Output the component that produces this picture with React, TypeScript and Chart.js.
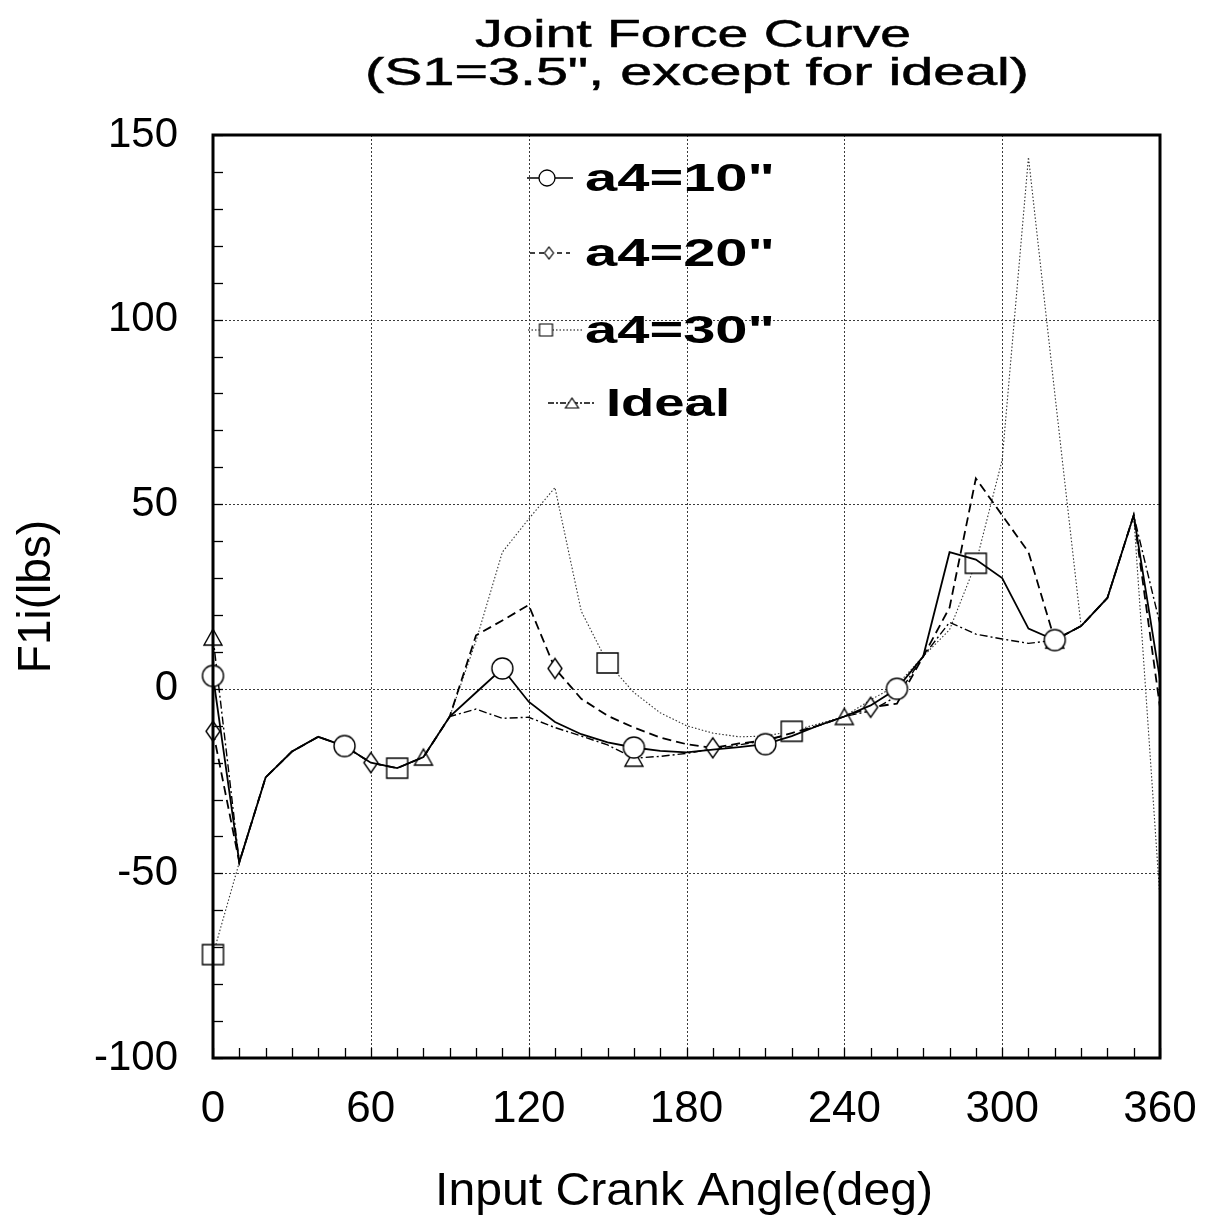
import React, { useEffect, useRef } from 'react';
import { Chart, registerables } from 'chart.js';

Chart.register(...registerables);

// ---------- data ----------
const angles = [0, 10, 20, 30, 40, 50, 60, 70, 80, 90, 100, 110, 120, 130, 140, 150, 160, 170, 180, 190, 200, 210, 220, 230, 240, 250, 260, 270, 280, 290, 300, 310, 320, 330, 340, 350, 360];

const a4_10 = [3.5, -47, -24, -17, -13, -15.5, -20, -21.5, -18.5, -7.5, -1, 5.5, -3.5, -9, -12.3, -14.5, -15.9, -16.8, -17.2, -16.5, -15.8, -15, -12.8, -10, -7.5, -4.5, 0, 8.8, 37, 35, 30, 16.3, 13.2, 17, 24.6, 47, 2.5];
const a4_20 = [-11.5, -47, -24, -17, -13, -15.5, -20, -21.5, -18.5, -7.5, 14.5, 18.5, 22.7, 5.5, -2.7, -7.3, -10.5, -13.2, -15, -16, -14.8, -14, -12, -10, -7.5, -5, -4, 8.8, 22, 57, 47, 37, 13.2, 17, 24.6, 47, -5];
const a4_30 = [-72, -47, -24, -17, -13, -15.5, -20, -21.5, -18.5, -7.5, 13, 37, 46, 54.5, 21, 7, -1, -6.5, -10, -12, -13, -12.8, -11.5, -9.5, -7.5, -3, 1, 8.8, 16, 34, 62, 144, 80, 17, 24.6, 47, -57];
const ideal = [14, -47, -24, -17, -13, -15.5, -20, -21.5, -18.5, -7.5, -5.5, -8, -7.7, -10.5, -12.8, -15.2, -18.8, -18.3, -17.5, -16.3, -15.2, -14, -12.2, -10, -7.5, -6, -2, 8.8, 18, 14.8, 13.5, 12.3, 13.2, 17, 24.6, 47, 17.5];

// indices of points that carry a marker
const marks10 = [0, 5, 11, 16, 21, 26, 32];
const marks20 = [0, 6, 13, 19, 25];
const marks30 = [0, 7, 15, 22, 29];
const marksIdeal = [0, 8, 16, 24, 32];

const seriesLabels = ['a4=10"', 'a4=20"', 'a4=30"', 'Ideal'];
const xTickValues = [0, 60, 120, 180, 240, 300, 360];
const yTickValues = [-100, -50, 0, 50, 100, 150];
const titleLines = ['Joint Force Curve', '(S1=3.5", except for ideal)'];
const xAxisTitle = 'Input Crank Angle(deg)';
const yAxisTitle = 'F1i(lbs)';

// ---------- helpers ----------
function makeMarker(kind: string, w: number, h: number, lw = 1.4): HTMLCanvasElement {
  const pad = 2;
  const c = document.createElement('canvas');
  c.width = Math.ceil(w + pad * 2);
  c.height = Math.ceil(h + pad * 2);
  const g = c.getContext('2d') as CanvasRenderingContext2D;
  const cx = c.width / 2;
  const cy = c.height / 2;
  g.beginPath();
  if (kind === 'circle') g.arc(cx, cy, w / 2, 0, Math.PI * 2);
  else if (kind === 'square') g.rect(cx - w / 2, cy - h / 2, w, h);
  else if (kind === 'diamond') {
    g.moveTo(cx, cy - h / 2); g.lineTo(cx + w / 2, cy); g.lineTo(cx, cy + h / 2); g.lineTo(cx - w / 2, cy); g.closePath();
  } else {
    g.moveTo(cx, cy - h / 2); g.lineTo(cx + w / 2, cy + h / 2); g.lineTo(cx - w / 2, cy + h / 2); g.closePath();
  }
  g.fillStyle = '#fff';
  g.fill();
  g.strokeStyle = '#000';
  g.lineWidth = lw;
  g.stroke();
  return c;
}

const FONT = '"Liberation Sans", Arial, Helvetica, sans-serif';

// draw text horizontally scaled so that it spans targetW pixels
function fitText(ctx: CanvasRenderingContext2D, text: string, x: number, y: number, targetW: number, align: CanvasTextAlign, strokeW = 0) {
  const w = ctx.measureText(text).width;
  const sx = targetW / w;
  ctx.save();
  ctx.translate(x, y);
  ctx.scale(sx, 1);
  ctx.textAlign = align;
  ctx.fillText(text, 0, 0);
  if (strokeW > 0) {
    ctx.lineWidth = strokeW;
    ctx.strokeStyle = '#000';
    ctx.strokeText(text, 0, 0);
  }
  ctx.restore();
}

export default function App() {
  const ref = useRef<HTMLCanvasElement | null>(null);

  useEffect(() => {
    const canvas = ref.current;
    if (!canvas) return;

    const mCircle = makeMarker('circle', 21, 21);
    const mDiamond = makeMarker('diamond', 14, 20);
    const mSquare = makeMarker('square', 21, 20);
    const mTri = makeMarker('triangle', 18, 16);

    const lCircle = makeMarker('circle', 16, 16, 1.3);
    const lDiamond = makeMarker('diamond', 9, 12, 1.2);
    const lSquare = makeMarker('square', 13, 12, 1.2);
    const lTri = makeMarker('triangle', 13, 10, 1.2);

    const styles = [
      { dash: [] as number[], width: 1.8, color: '#000', marker: mCircle, lmarker: lCircle, marks: marks10, vals: a4_10 },
      { dash: [9, 5], width: 1.8, color: '#000', marker: mDiamond, lmarker: lDiamond, marks: marks20, vals: a4_20 },
      { dash: [1.5, 2], width: 1.1, color: '#333', marker: mSquare, lmarker: lSquare, marks: marks30, vals: a4_30 },
      { dash: [8, 3, 2, 3], width: 1.4, color: '#000', marker: mTri, lmarker: lTri, marks: marksIdeal, vals: ideal },
    ];

    const datasets = styles.map((s, k) => ({
      label: seriesLabels[k],
      data: angles.map((a, i) => ({ x: a, y: s.vals[i] })),
      borderColor: s.color,
      borderWidth: s.width,
      borderDash: s.dash,
      pointStyle: s.marker as any,
      pointRadius: angles.map((_, i) => (s.marks.includes(i) ? 10 : 0)),
      pointHoverRadius: 0,
      tension: 0,
      fill: false,
      clip: false as any,
    }));

    const decor = {
      id: 'decor',
      beforeDatasetsDraw(chart: any) {
        const { ctx, chartArea: a, scales } = chart;
        const x = scales.x; const y = scales.y;
        ctx.save();
        ctx.strokeStyle = '#3a3a3a';
        ctx.lineWidth = 1;
        ctx.setLineDash([2, 2]);
        xTickValues.slice(1, -1).forEach((v) => {
          const px = Math.round(x.getPixelForValue(v)) + 0.5;
          ctx.beginPath(); ctx.moveTo(px, a.top); ctx.lineTo(px, a.bottom); ctx.stroke();
        });
        yTickValues.slice(1, -1).forEach((v) => {
          const py = Math.round(y.getPixelForValue(v)) + 0.5;
          ctx.beginPath(); ctx.moveTo(a.left, py); ctx.lineTo(a.right, py); ctx.stroke();
        });
        ctx.restore();
      },
      afterDatasetsDraw(chart: any) {
        const { ctx, chartArea: a, scales } = chart;
        const x = scales.x; const y = scales.y;
        ctx.save();
        // minor ticks
        ctx.strokeStyle = '#000';
        ctx.lineWidth = 1.3;
        ctx.setLineDash([]);
        for (let v = -100; v <= 150; v += 10) {
          const py = Math.round(y.getPixelForValue(v)) + 0.5;
          ctx.beginPath(); ctx.moveTo(a.left, py); ctx.lineTo(a.left + 10, py); ctx.stroke();
        }
        for (let v = 0; v <= 360; v += 10) {
          const px = Math.round(x.getPixelForValue(v)) + 0.5;
          ctx.beginPath(); ctx.moveTo(px, a.bottom); ctx.lineTo(px, a.bottom - 10); ctx.stroke();
        }
        // frame
        ctx.lineWidth = 3;
        ctx.strokeRect(a.left, a.top, a.right - a.left, a.bottom - a.top);

        // legend
        const rowsY = [178, 253, 330, 403];
        const textX = [585, 585, 585, 606];
        const textW = [190, 190, 190, 124];
        const lineX = [[527, 573], [530, 570], [528, 582], [548, 596]];
        const markX = [547, 549, 546, 572];
        styles.forEach((s, k) => {
          const ry = rowsY[k];
          ctx.save();
          ctx.strokeStyle = '#000';
          ctx.lineWidth = k === 2 ? 1.1 : 1.4;
          ctx.setLineDash(k === 0 ? [] : k === 1 ? [5, 4] : k === 2 ? [1.5, 2] : [6, 2, 2, 2]);
          ctx.beginPath(); ctx.moveTo(lineX[k][0], ry); ctx.lineTo(lineX[k][1], ry); ctx.stroke();
          ctx.restore();
          const m = s.lmarker;
          ctx.drawImage(m, markX[k] - m.width / 2, ry - m.height / 2);
          ctx.save();
          ctx.fillStyle = '#000';
          ctx.font = 'bold 39px ' + FONT;
          ctx.textBaseline = 'middle';
          fitText(ctx, seriesLabels[k], textX[k], ry + 2, textW[k], 'left');
          ctx.restore();
        });
        ctx.restore();
      },
      afterDraw(chart: any) {
        const { ctx, chartArea: a } = chart;
        ctx.save();
        ctx.fillStyle = '#000';
        // title
        ctx.font = '38px ' + FONT;
        ctx.textBaseline = 'alphabetic';
        const tY = [47, 85];
        const tX = [693, 697];
        const tW = [436, 664];
        titleLines.forEach((t, i) => {
          fitText(ctx, t, tX[i], tY[i], tW[i], 'center', 0.5);
        });
        // x axis title
        ctx.font = '46px ' + FONT;
        fitText(ctx, xAxisTitle, 684, 1205, 498, 'center');
        // y axis title
        ctx.save();
        ctx.translate(37, (a.top + a.bottom) / 2);
        ctx.rotate(-Math.PI / 2);
        ctx.textBaseline = 'middle';
        ctx.textAlign = 'center';
        ctx.fillText(yAxisTitle, 0, 0);
        ctx.restore();
        ctx.restore();
      },
    };

    const chart = new Chart(canvas, {
      type: 'line',
      data: { datasets: datasets as any },
      options: {
        animation: false,
        responsive: false,
        devicePixelRatio: 1,
        events: [],
        layout: { padding: { top: 135, right: 46, bottom: 0, left: 0 } },
        plugins: { legend: { display: false }, title: { display: false }, tooltip: { enabled: false } },
        scales: {
          x: {
            type: 'linear',
            min: 0,
            max: 360,
            afterFit: (s: any) => { s.height = 160; s.paddingLeft = 0; s.paddingRight = 0; },
            afterBuildTicks: (s: any) => { s.ticks = xTickValues.map((v) => ({ value: v })); },
            grid: { display: false, drawTicks: false },
            border: { display: false },
            ticks: {
              color: '#000',
              padding: 30,
              maxRotation: 0,
              autoSkip: false,
              font: { family: FONT, size: 44, lineHeight: 1 },
              callback: (v: any) => String(v),
            },
          },
          y: {
            type: 'linear',
            min: -100,
            max: 150,
            afterFit: (s: any) => { s.width = 213; s.paddingTop = 0; s.paddingBottom = 0; },
            afterBuildTicks: (s: any) => { s.ticks = yTickValues.map((v) => ({ value: v })); },
            grid: { display: false, drawTicks: false },
            border: { display: false },
            ticks: {
              color: '#000',
              padding: 35,
              autoSkip: false,
              font: { family: FONT, size: 42, lineHeight: 1 },
              callback: (v: any) => String(v),
            },
          },
        },
      },
      plugins: [decor],
    });

    return () => chart.destroy();
  }, []);

  return (
    <div style={{ position: 'fixed', left: 0, top: 0, width: 1206, height: 1218, background: '#fff' }}>
      <canvas ref={ref} width={1206} height={1218} style={{ display: 'block' }} />
    </div>
  );
}
